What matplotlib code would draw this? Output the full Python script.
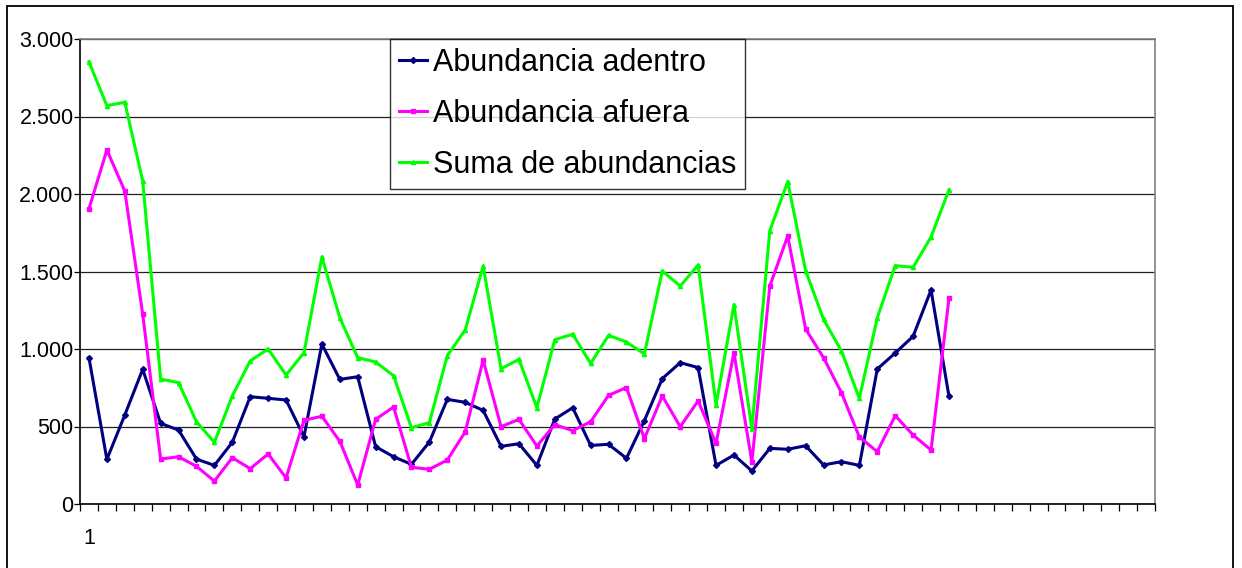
import matplotlib
matplotlib.use("Agg")
import matplotlib.pyplot as plt
from matplotlib.patches import Rectangle
from matplotlib.ticker import FuncFormatter

adentro = [944, 288, 574, 869, 520, 477, 290, 249, 398, 692,
           682, 671, 434, 1032, 804, 821, 370, 305, 256, 400,
           675, 656, 604, 372, 389, 249, 548, 621, 378, 385,
           295, 538, 809, 912, 880, 249, 316, 213, 359, 353,
           376, 252, 273, 249, 871, 974, 1082, 1381, 695]
afuera = [1905, 2284, 2019, 1224, 290, 305, 243, 148, 299, 228,
          323, 168, 540, 566, 405, 123, 546, 626, 237, 224,
          284, 465, 929, 499, 546, 374, 512, 473, 531, 701,
          751, 422, 697, 499, 665, 391, 976, 271, 1406, 1729,
          1129, 944, 718, 432, 338, 570, 445, 348, 1327]
suma = [2853, 2570, 2592, 2084, 806, 783, 531, 398, 697, 923,
        1000, 832, 976, 1594, 1202, 944, 916, 828, 492, 525,
        957, 1123, 1535, 873, 933, 621, 1060, 1095, 907, 1088,
        1045, 968, 1503, 1406, 1542, 639, 1286, 484, 1763, 2080,
        1505, 1191, 987, 682, 1202, 1538, 1527, 1723, 2026]
n_categories = 60
labels = ["Abundancia adentro", "Abundancia afuera", "Suma de abundancias"]
colors = ["#000080", "#FF00FF", "#00FF00"]
markers = ["D", "s", "^"]

plt.rcParams["font.family"] = ["Liberation Sans", "DejaVu Sans"]

fig = plt.figure(figsize=(12.42, 5.68), dpi=100)
W, H = 1242, 568
ax = fig.add_axes([80 / W, 1 - 504 / H, (1155 - 80) / W, (504 - 39) / H])

x = list(range(len(adentro)))
for ys, lab, c, m in zip([adentro, afuera, suma], labels, colors, markers):
    ax.plot(x, ys, color=c, lw=2.2, marker=m, ms=3, label=lab)

ax.set_xlim(-0.5, n_categories - 0.5)
ax.set_ylim(0, 3000)
ax.set_yticks(range(0, 3001, 500))
ax.yaxis.set_major_formatter(FuncFormatter(lambda v, p: f"{int(v):,}".replace(",", ".")))
ax.grid(axis="y", color="#202020", lw=0.9)
ax.set_axisbelow(True)

ax.set_xticks([0])
ax.set_xticklabels(["1"])
ax.set_xticks([i - 0.5 for i in range(n_categories + 1)], minor=True)
ax.tick_params(axis="x", which="major", length=0, pad=17, labelsize=15.5)
ax.tick_params(axis="x", which="minor", length=5, width=0.9, color="black")
ax.tick_params(axis="y", length=4, width=0.9, pad=0.5, labelsize=15.5)

ax.spines["top"].set_color("#808080")
ax.spines["right"].set_color("#808080")
ax.spines["left"].set_color("black")
ax.spines["bottom"].set_color("black")
for s in ax.spines.values():
    s.set_linewidth(1.2)

leg = ax.legend(loc="upper left", bbox_to_anchor=((390 - 80) / (1155 - 80), 1.0),
                prop={"size": 22},
                frameon=True, fancybox=False, edgecolor="black",
                handlelength=0.9, handletextpad=0.2, labelspacing=0.68,
                borderpad=0.3, borderaxespad=0)
leg.get_frame().set_linewidth(1.0)

fig.patches.append(Rectangle((7 / W, -0.05), (1233 - 7) / W, 1 - 6 / H + 0.05,
                             transform=fig.transFigure, fill=False,
                             edgecolor="black", lw=1.3))

fig.savefig("out.png", dpi=100)
